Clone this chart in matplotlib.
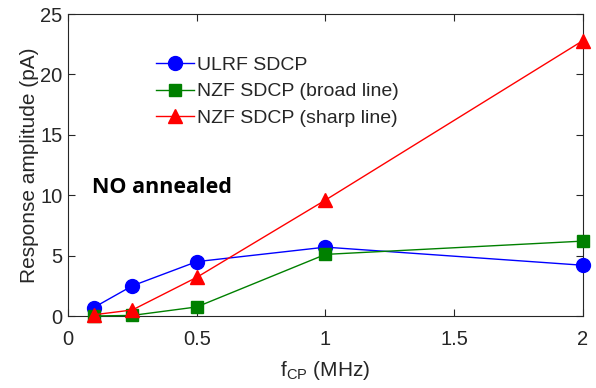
import matplotlib
matplotlib.use("Agg")
import matplotlib.pyplot as plt

plt.rcParams['font.family'] = ['Liberation Sans', 'DejaVu Sans']

freq = [0.1, 0.25, 0.5, 1.0, 2.0]
ulrf = [0.7, 2.5, 4.5, 5.7, 4.2]
nzf_broad = [0.0, 0.05, 0.75, 5.1, 6.2]
nzf_sharp = [0.1, 0.5, 3.2, 9.6, 22.8]

xticks = [0, 0.5, 1, 1.5, 2]
xticklabels = ['0', '0.5', '1', '1.5', '2']
yticks = [0, 5, 10, 15, 20, 25]

fig = plt.figure(figsize=(5.96, 3.88), dpi=100)
ax = fig.add_axes([68/596, 1 - 316/388, 515/596, 302/388])

ax.plot(freq, ulrf, color='blue', marker='o', ms=10, lw=1, label='ULRF SDCP', clip_on=False, zorder=3)
ax.plot(freq, nzf_broad, color='green', marker='s', ms=8, lw=1, label='NZF SDCP (broad line)', clip_on=False, zorder=3)
ax.plot(freq, nzf_sharp, color='red', marker='^', ms=10, lw=1, label='NZF SDCP (sharp line)', clip_on=False, zorder=3)

ax.set_xlim(0, 2)
ax.set_ylim(0, 25)
ax.set_xticks(xticks)
ax.set_xticklabels(xticklabels)
ax.set_yticks(yticks)
ax.tick_params(direction='in', top=True, right=True, labelsize=14.5, colors='#262626', length=5)
ax.tick_params(axis='x', pad=10)
ax.tick_params(axis='y', pad=4)
for s in ax.spines.values():
    s.set_color('#262626')
    s.set_linewidth(0.8)

ax.set_xlabel('f$_{\\mathregular{CP}}$ (MHz)', fontsize=15, color='#262626', labelpad=7)
ax.set_ylabel('Response amplitude (pA)', fontsize=15, color='#262626', labelpad=1)

leg = ax.legend(loc='upper left', bbox_to_anchor=(0.155, 0.885), frameon=False, fontsize=14,
                handlelength=2.0, labelspacing=0.45, handletextpad=0.15, borderaxespad=0)
for t in leg.get_texts():
    t.set_color('#262626')

ax.text(0.047, 0.424, 'NO annealed', transform=ax.transAxes, fontsize=15.5, fontweight='bold',
        va='center', family=['Open Sans', 'DejaVu Sans'], color='black')

fig.savefig('out.png', dpi=100)
